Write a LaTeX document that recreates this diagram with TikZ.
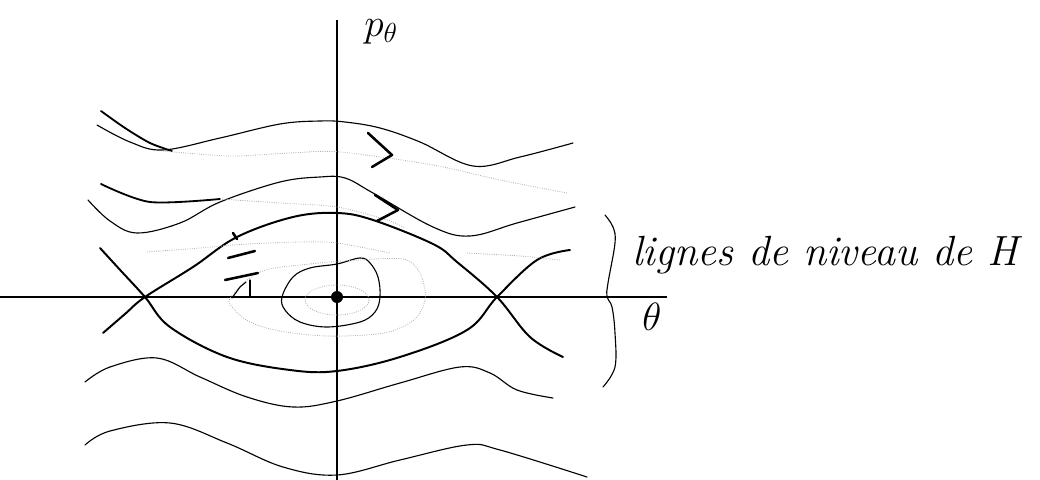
\RequirePackage{fix-cm}
\documentclass[tikz,border=0pt]{standalone}
\usepackage{fontspec}
\usepackage{tikz}
\usetikzlibrary{positioning, calc}

\begin{document}
\begin{tikzpicture}[
        x=0.025cm, y=-0.025cm,
        axisLine/.style={line width=1.1pt, black},
        sepLine/.style={line width=1.4pt, black, line cap=round},
        orbitLine/.style={line width=0.8pt, black, line cap=round},
        faintLine/.style={line width=0.6pt, black!30, densely dotted},
        flowTick/.style={line width=1.8pt, black, line cap=round, line join=round},
        axisLabel/.style={font=\fontsize{28}{32}\selectfont, inner sep=0pt},
        noteLabel/.style={font=\fontsize{30}{36}\selectfont\itshape, inner sep=0pt, anchor=base west}
    ]
        \useasboundingbox (0,0) rectangle (1040,480);

        % axes
        \coordinate (xl) at (0,297);
        \coordinate (xr) at (667,297);
        \coordinate (yt) at (337,20);
        \coordinate (yb) at (337,480);
        \draw[axisLine] (xl) -- (xr);
        \draw[axisLine] (yt) -- (yb);
        \node[axisLabel] (ptheta) at (381,32) {$p_\theta$};
        \node[axisLabel] (theta) at (652,317) {$\theta$};

        % equilibre stable
        \node[circle, fill=black, inner sep=0pt, minimum size=0.3cm] (eq) at (337,297) {};

        % separatrices
        \draw[sepLine] plot[smooth, tension=0.6] coordinates {(103,333) (125,314) (145,297) (193,267) (237,237) (293,217) (337,213) (373,220) (433,244) (457,262) (497,297) (530,337) (563,357)};
        \draw[sepLine] plot[smooth, tension=0.6] coordinates {(100,248) (122,272) (145,297) (170,327) (227,357) (290,370) (337,371) (400,357) (467,330) (497,297) (537,260) (570,250)};

        % orbites fermees
        \draw[orbitLine] plot[smooth cycle, tension=0.6] coordinates {(282,297) (293,277) (310,268) (337,264) (360,258) (370,263) (378,277) (380,297) (375,312) (360,322) (327,327) (300,322) (285,310)};
        \draw[faintLine] plot[smooth cycle, tension=0.6] coordinates {(231,297) (260,272) (310,264) (360,260) (403,259) (418,270) (424,285) (425,300) (417,317) (400,328) (377,334) (327,336) (280,331) (250,322) (233,308)};
        \draw[faintLine] (337,300) ellipse (32 and 15);

        % orbites de rotation
        \draw[orbitLine] plot[smooth, tension=0.6] coordinates {(97,125) (130,142) (163,150) (220,138) (280,124) (320,121) (345,122) (380,128) (420,142) (473,166) (520,157) (573,143)};
        \draw[orbitLine, line width=1.3pt] plot[smooth] coordinates {(101,111) (125,128) (150,143) (172,151)};
        \draw[orbitLine] plot[smooth, tension=0.6] coordinates {(88,200) (110,221) (137,233) (180,223) (220,202) (280,182) (320,177) (345,178) (373,193) (433,227) (470,236) (517,223) (575,207)};
        \draw[orbitLine, line width=1.3pt] plot[smooth] coordinates {(101,184) (150,202) (220,199)};
        \draw[orbitLine] plot[smooth, tension=0.6] coordinates {(85,382) (110,367) (157,358) (200,377) (247,397) (293,407) (337,401) (400,383) (460,367) (490,373) (517,390) (553,398)};
        \draw[orbitLine] plot[smooth, tension=0.6] coordinates {(85,445) (110,431) (170,423) (227,443) (283,467) (337,475) (400,460) (467,445) (500,450) (587,477)};

        % traces au crayon
        \draw[faintLine] plot[smooth] coordinates {(163,151) (230,156) (290,153) (340,152) (433,165) (500,180) (567,193)};
        \draw[faintLine] plot[smooth] coordinates {(220,199) (280,203) (337,207) (387,220) (405,228)};
        \draw[faintLine] plot[smooth] coordinates {(147,252) (200,248) (247,244) (300,242) (337,243) (390,253)};
        \draw[faintLine] plot[smooth] coordinates {(467,253) (520,256) (560,260)};

        % sens de parcours
        \draw[flowTick] (368,133) -- (392,155) -- (372,167);
        \draw[flowTick] (375,195) -- (398,210) -- (377,221);
        \draw[flowTick] (233,233) -- (237,239);
        \draw[flowTick] (228,258) -- (255,251);
        \draw[flowTick] (225,280) -- (258,273);
        \draw[orbitLine] (250,280) -- (250,297);
        \draw[orbitLine] (232,298) -- (240,287) -- (246,282);

        % accolade et legende
        \coordinate (bt) at (605,215);
        \coordinate (bb) at (603,387);
        \draw[orbitLine] plot[smooth, tension=0.6] coordinates {(bt) (613,227) (615,243) (608,283) (607,297) (612,307) (615,333) (615,367) (bb)};
        \node[noteLabel] (niveau) at (632,265) {lignes de niveau de H};
    \end{tikzpicture}
\end{document}
